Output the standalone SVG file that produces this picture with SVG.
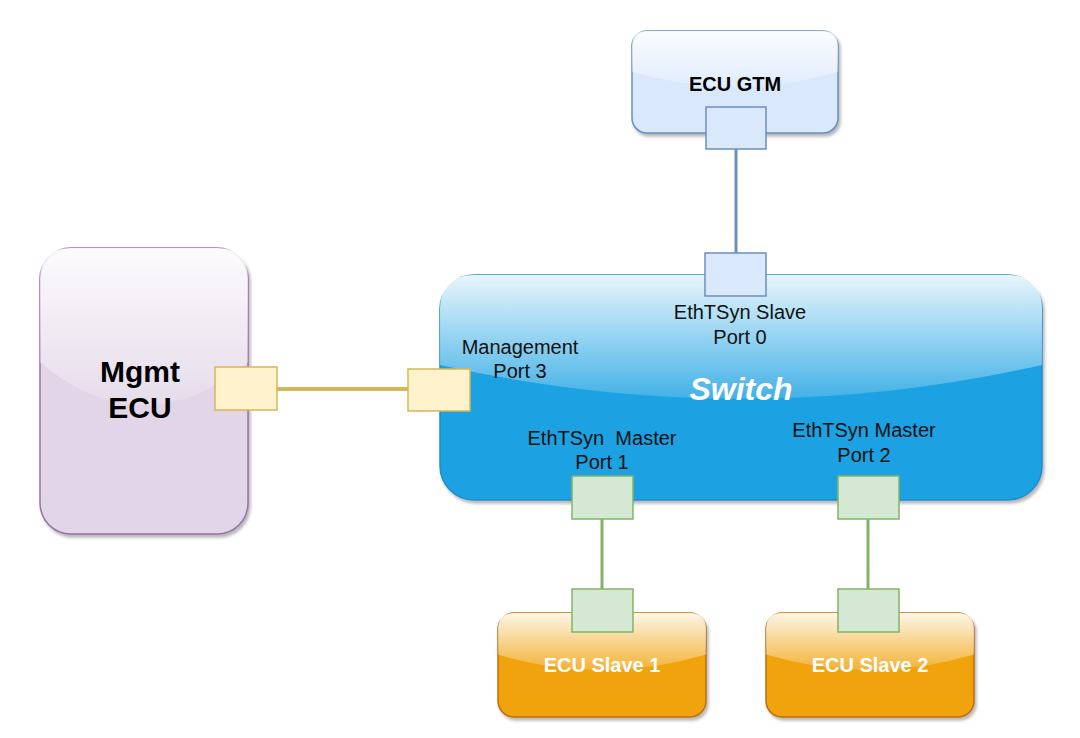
<svg xmlns="http://www.w3.org/2000/svg" width="1080" height="738" viewBox="0 0 1080 738">
<defs>
<linearGradient id="glass" x1="0" y1="0" x2="0" y2="1">
<stop offset="0" stop-color="#ffffff" stop-opacity="0.9"/>
<stop offset="1" stop-color="#ffffff" stop-opacity="0.17"/>
</linearGradient>
<filter id="shadow" x="-10%" y="-10%" width="125%" height="130%">
<feDropShadow dx="2" dy="3" stdDeviation="1.5" flood-color="#808080" flood-opacity="0.55"/>
</filter>
</defs>
<style>
text{font-family:"Liberation Sans",Arial,sans-serif;text-anchor:middle}
.lbl{font-size:20px;fill:#111111}
.bold{font-weight:bold}
.glass{fill:url(#glass);stroke:none}
.port-b{fill:#dae8fc;stroke:#6c8ebf;stroke-width:1.5}
.port-y{fill:#fff2cc;stroke:#d6b656;stroke-width:1.5}
.port-g{fill:#d5e8d4;stroke:#82b366;stroke-width:1.5}
</style>
<rect width="1080" height="738" fill="#ffffff"/>
<g id="ecu-gtm">
<rect x="632" y="31" width="206" height="102" rx="15" fill="#dae8fc" stroke="#6c8ebf" stroke-width="1.5" filter="url(#shadow)"/>
<path class="glass" d="M647,31 Q632,31 632,46 L632,71.8 Q735,102.4 838,71.8 L838,46 Q838,31 823,31 Z"/>
<text x="735" y="91" class="bold" font-size="20" fill="#000">ECU GTM</text>
</g>
<g id="mgmt-ecu">
<rect x="40" y="248" width="208" height="286" rx="31" fill="#e1d5e7" stroke="#9673a6" stroke-width="1.5" filter="url(#shadow)"/>
<path class="glass" d="M71,248 Q40,248 40,279 L40,362.4 Q144,448.2 248,362.4 L248,279 Q248,248 217,248 Z"/>
<text x="140" y="382" class="bold" font-size="30" fill="#000">Mgmt</text>
<text x="140" y="418" class="bold" font-size="30" fill="#000">ECU</text>
</g>
<g id="switch">
<rect x="440" y="275" width="602" height="225" rx="34" fill="#1ba1e2" stroke="#1a8fd0" stroke-width="1.5" filter="url(#shadow)"/>
<path class="glass" d="M474,275 Q440,275 440,309 L440,365 Q741,432.5 1042,365 L1042,309 Q1042,275 1008,275 Z"/>
<text x="741" y="400" class="bold" font-size="32" font-style="italic" fill="#ffffff">Switch</text>
<text x="740" y="319" class="lbl">EthTSyn Slave</text>
<text x="740" y="344" class="lbl">Port 0</text>
<text x="520" y="354" class="lbl">Management</text>
<text x="520" y="378" class="lbl">Port 3</text>
<text x="602" y="445" class="lbl" xml:space="preserve">EthTSyn  Master</text>
<text x="602" y="469" class="lbl">Port 1</text>
<text x="864" y="437" class="lbl">EthTSyn Master</text>
<text x="864" y="462" class="lbl">Port 2</text>
</g>
<g id="ecu-slave-1">
<rect x="498" y="613" width="208" height="104" rx="16" fill="#f0a30a" stroke="#bd7000" stroke-width="1.5" filter="url(#shadow)"/>
<path class="glass" d="M514,613 Q498,613 498,629 L498,654.6 Q602,685.8 706,654.6 L706,629 Q706,613 690,613 Z"/>
<text x="602" y="672" class="bold" font-size="20" fill="#ffffff">ECU Slave 1</text>
</g>
<g id="ecu-slave-2">
<rect x="766" y="613" width="208" height="104" rx="16" fill="#f0a30a" stroke="#bd7000" stroke-width="1.5" filter="url(#shadow)"/>
<path class="glass" d="M782,613 Q766,613 766,629 L766,654.6 Q870,685.8 974,654.6 L974,629 Q974,613 958,613 Z"/>
<text x="870" y="672" class="bold" font-size="20" fill="#ffffff">ECU Slave 2</text>
</g>
<g id="connectors" fill="none">
<line x1="736" y1="149" x2="736" y2="253" stroke="#6c8ebf" stroke-width="3"/>
<line x1="277" y1="389" x2="408" y2="389" stroke="#d6b656" stroke-width="4"/>
<line x1="602" y1="519" x2="602" y2="589" stroke="#82b366" stroke-width="3"/>
<line x1="868" y1="519" x2="868" y2="589" stroke="#82b366" stroke-width="3"/>
</g>
<g id="port-gtm"><rect class="port-b" x="706" y="107" width="60" height="42"/></g>
<g id="port-0"><rect class="port-b" x="705" y="253" width="61" height="43"/></g>
<g id="port-mgmt"><rect class="port-y" x="215" y="367" width="62" height="43"/></g>
<g id="port-3"><rect class="port-y" x="408" y="369" width="62" height="42"/></g>
<g id="port-1"><rect class="port-g" x="572" y="476" width="61" height="43"/></g>
<g id="port-2"><rect class="port-g" x="838" y="476" width="61" height="43"/></g>
<g id="port-slave-1"><rect class="port-g" x="572" y="589" width="61" height="43"/></g>
<g id="port-slave-2"><rect class="port-g" x="838" y="589" width="61" height="43"/></g>
</svg>
